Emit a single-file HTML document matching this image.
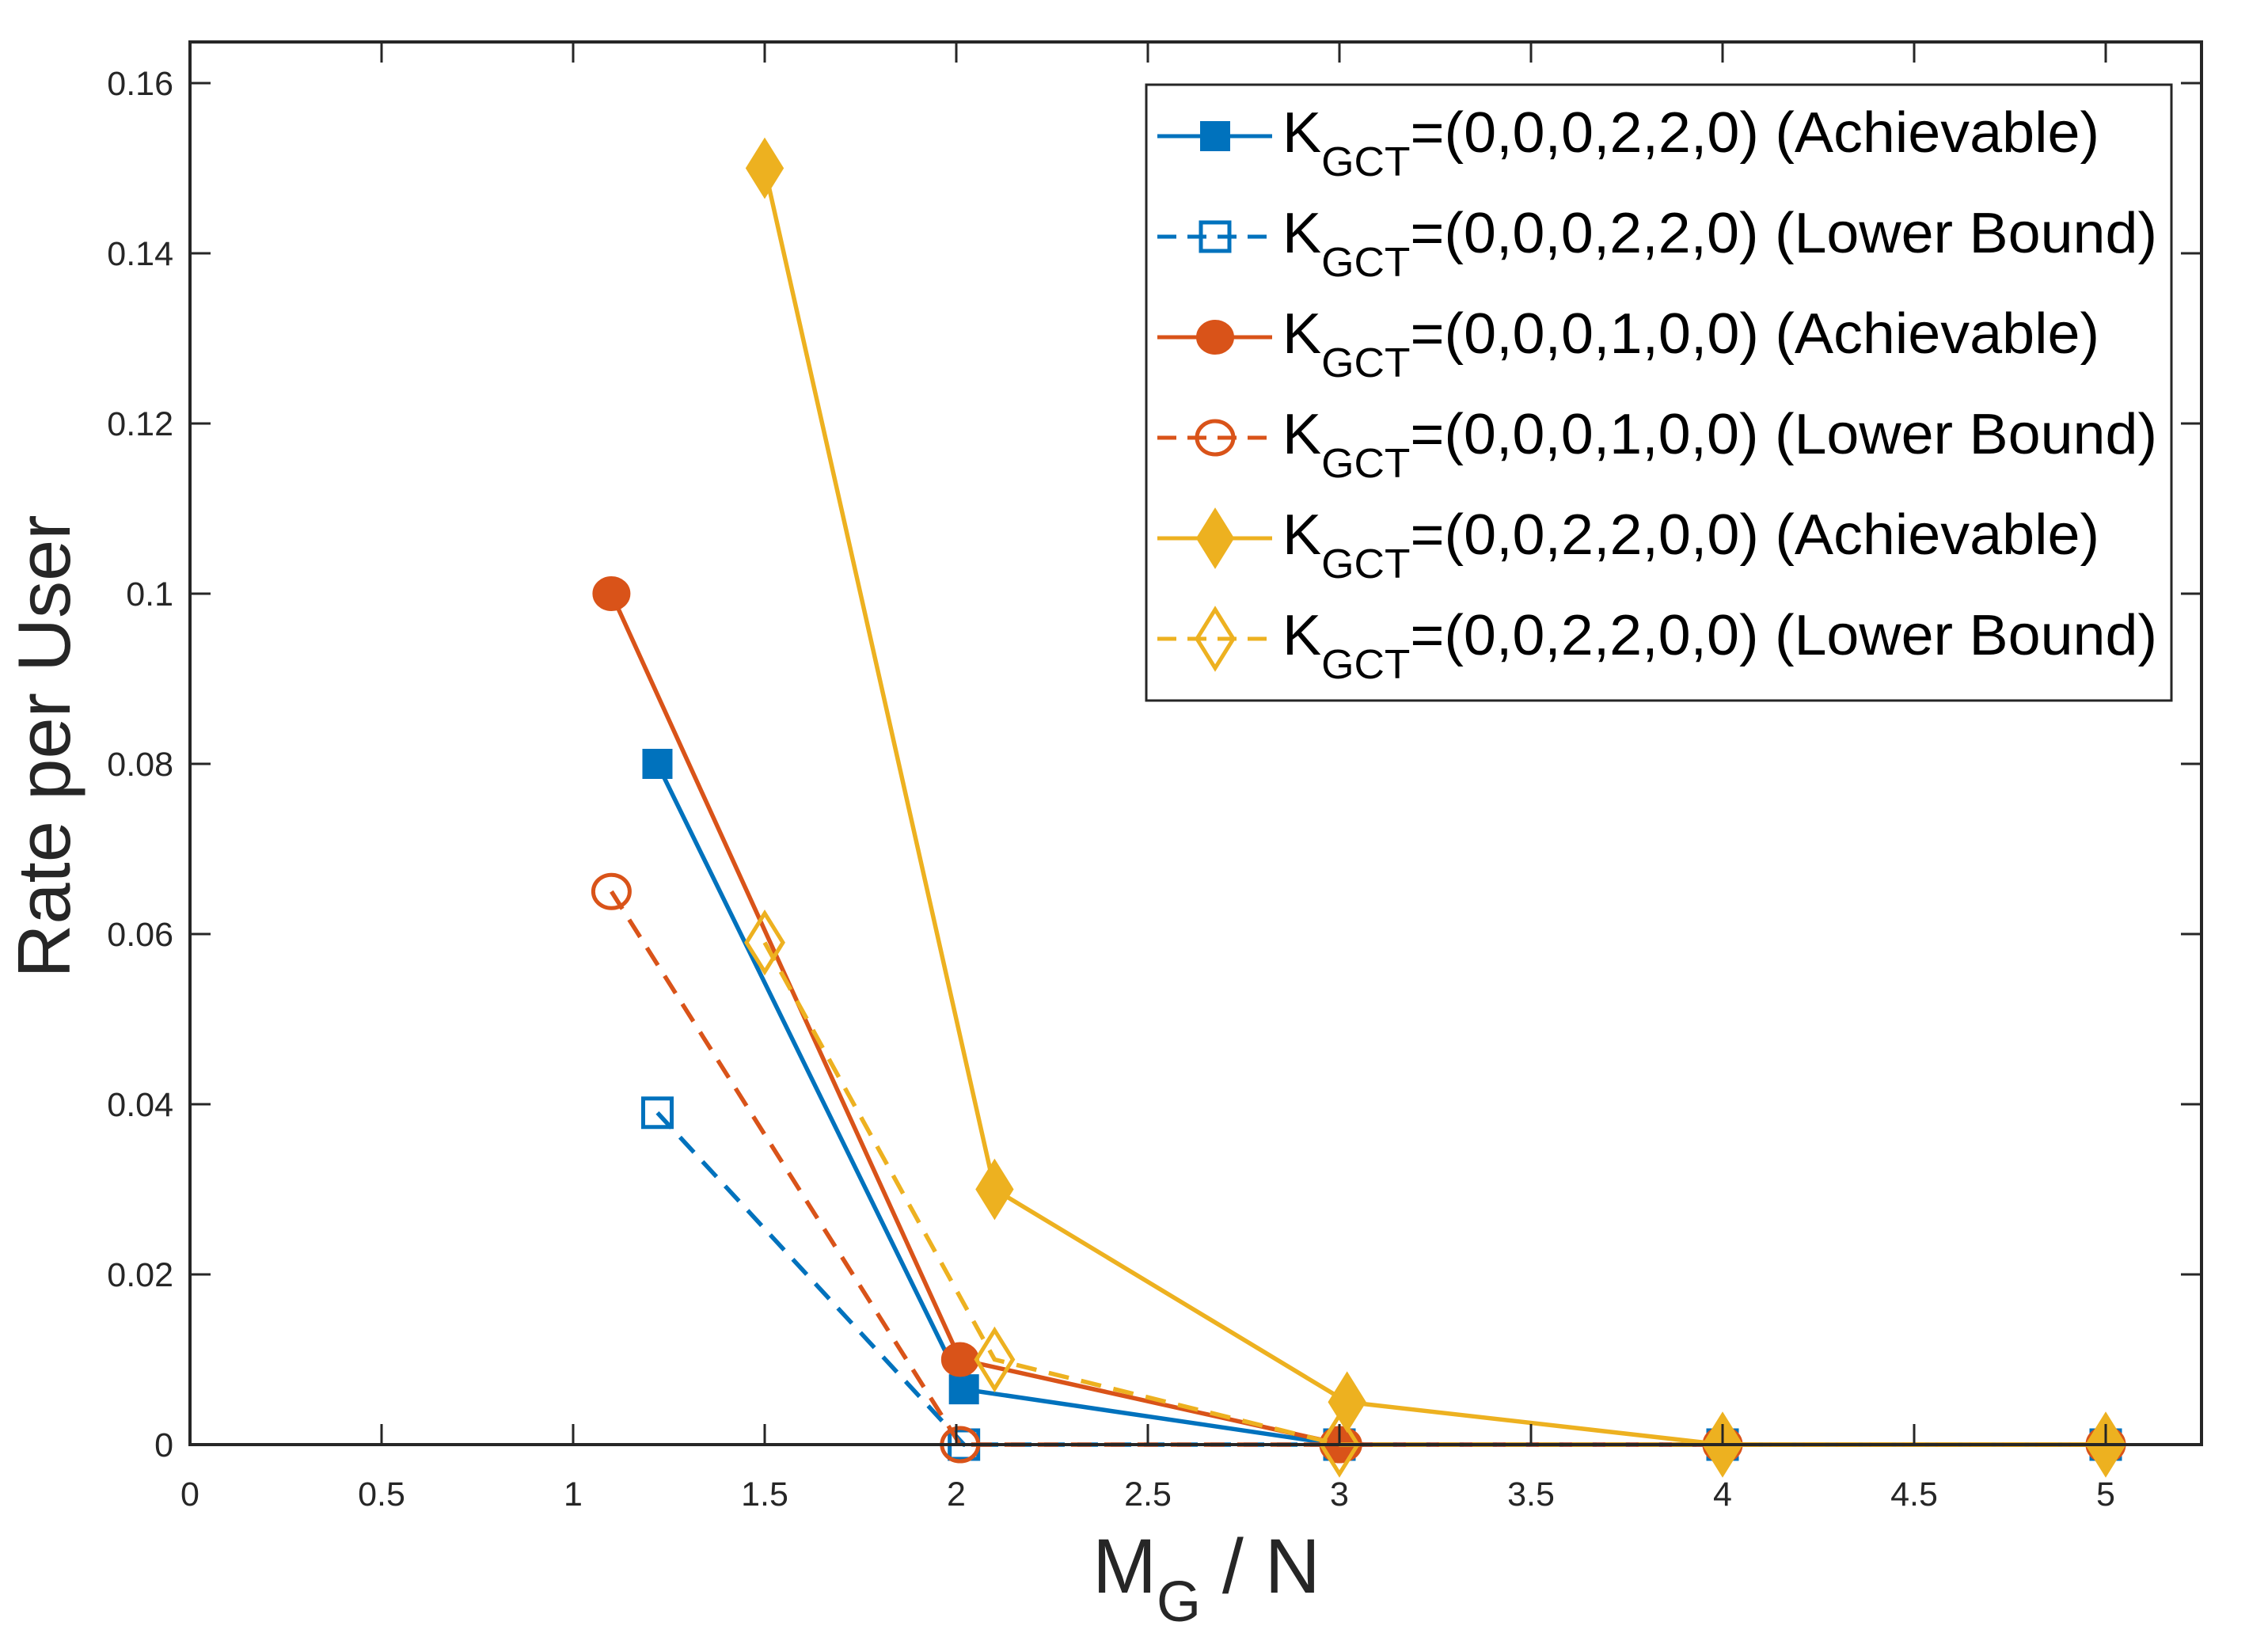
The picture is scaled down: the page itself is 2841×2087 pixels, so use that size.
<!DOCTYPE html>
<html><head><meta charset="utf-8"><style>
html,body{margin:0;padding:0;background:#fff;}
svg{display:block;font-family:"Liberation Sans",sans-serif;}
</style></head><body>
<svg id="chart" width="2841" height="2087" viewBox="0 0 2841 2087" xmlns="http://www.w3.org/2000/svg">
<rect width="2841" height="2087" fill="#fff"/>
<g id="marks"></g>
<g id="axes"></g>
<g id="legend"></g>
</svg>
<script>
const xTicks = [0,0.5,1,1.5,2,2.5,3,3.5,4,4.5,5];
const xTickLabels = ["0","0.5","1","1.5","2","2.5","3","3.5","4","4.5","5"];
const yTicks = [0,0.02,0.04,0.06,0.08,0.1,0.12,0.14,0.16];
const yTickLabels = ["0","0.02","0.04","0.06","0.08","0.1","0.12","0.14","0.16"];
const blueAchX = [1.22,2.02,3,4,5];
const blueAchY = [0.08,0.0065,0,0,0];
const blueLbX = [1.22,2.02,3,4,5];
const blueLbY = [0.039,0,0,0,0];
const redAchX = [1.1,2.01,3.01,4,5];
const redAchY = [0.1,0.01,0,0,0];
const redLbX = [1.1,2.01,3,4,5];
const redLbY = [0.065,0,0,0,0];
const yelAchX = [1.5,2.1,3.02,4,5];
const yelAchY = [0.15,0.03,0.005,0,0];
const yelLbX = [1.5,2.1,3,4,5];
const yelLbY = [0.059,0.01,0,0,0];
const legendLabels = ["(0,0,0,2,2,0) (Achievable)","(0,0,0,2,2,0) (Lower Bound)","(0,0,0,1,0,0) (Achievable)","(0,0,0,1,0,0) (Lower Bound)","(0,0,2,2,0,0) (Achievable)","(0,0,2,2,0,0) (Lower Bound)"];

const NS="http://www.w3.org/2000/svg";
const L=240,R=2781,T=53,B=1825;
const X0=240, XU=484;
const sx=v=>X0+v*XU;
const sy=v=>B-v*(1720/0.16);
function mk(tag,attrs,parent){const e=document.createElementNS(NS,tag);for(const k in attrs)e.setAttribute(k,attrs[k]);parent.appendChild(e);return e;}
const marks=document.getElementById('marks'),axes=document.getElementById('axes'),leg=document.getElementById('legend');
const C={b:"#0072BD",r:"#D95319",y:"#EDB120"};
const series=[
 {xs:blueAchX,ys:blueAchY,c:C.b,m:"sq",fill:true,dash:false,n:"blue-achievable"},
 {xs:blueLbX,ys:blueLbY,c:C.b,m:"sq",fill:false,dash:true,n:"blue-lower-bound"},
 {xs:redAchX,ys:redAchY,c:C.r,m:"ci",fill:true,dash:false,n:"red-achievable"},
 {xs:redLbX,ys:redLbY,c:C.r,m:"ci",fill:false,dash:true,n:"red-lower-bound"},
 {xs:yelAchX,ys:yelAchY,c:C.y,m:"di",fill:true,dash:false,n:"yellow-achievable"},
 {xs:yelLbX,ys:yelLbY,c:C.y,m:"di",fill:false,dash:true,n:"yellow-lower-bound"}
];
function marker(g,m,x,y,c,fill){
 let e;
 const st={fill:fill?c:"none",stroke:c,"stroke-width":fill?2:5};
 if(m==="sq"){e=mk('rect',Object.assign({x:x-18,y:y-18,width:36,height:36},st),g);}
 else if(m==="ci"){e=mk('ellipse',Object.assign({cx:x,cy:y,rx:23,ry:21},st),g);}
 else {e=mk('polygon',Object.assign({points:`${x},${y-37} ${x+23},${y} ${x},${y+37} ${x-23},${y}`},st),g);}
 return e;
}
series.forEach(s=>{
 const g=mk('g',{},marks);
 
 
 const pts=s.xs.map((x,i)=>sx(x)+","+sy(s.ys[i])).join(" ");
 const pl=mk('polyline',{points:pts,fill:"none",stroke:s.c,"stroke-width":5.5,"stroke-dasharray":s.dash?"26,16":"none"},g);
 
 
 s.xs.forEach((x,i)=>{
  const e=marker(g,s.m,sx(x),sy(s.ys[i]),s.c,s.fill);
  
  
 });
});
const box=mk('rect',{x:L,y:T,width:R-L,height:B-T,fill:"none",stroke:"#262626","stroke-width":4},axes);


xTicks.forEach((v,i)=>{
 const x=sx(v);
 mk('line',{x1:x,y1:B,x2:x,y2:B-26,stroke:"#262626","stroke-width":3},axes);
 mk('line',{x1:x,y1:T,x2:x,y2:T+26,stroke:"#262626","stroke-width":3},axes);
 const t=mk('text',{x:x,y:1902,"font-size":43,fill:"#262626","text-anchor":"middle"},axes);
 t.textContent=xTickLabels[i];
 
 
});
yTicks.forEach((v,i)=>{
 const y=sy(v);
 mk('line',{x1:L,y1:y,x2:L+26,y2:y,stroke:"#262626","stroke-width":3},axes);
 mk('line',{x1:R,y1:y,x2:R-26,y2:y,stroke:"#262626","stroke-width":3},axes);
 const t=mk('text',{x:219,y:y+15,"font-size":43,fill:"#262626","text-anchor":"end"},axes);
 t.textContent=yTickLabels[i];
 
 
});
const yl=mk('text',{x:0,y:0,"font-size":94,fill:"#262626","text-anchor":"middle",transform:"translate(88,943) rotate(-90)"},axes);
yl.textContent="Rate per User";


const xl=mk('text',{x:1524,y:2012,"font-size":97,fill:"#262626","text-anchor":"middle"},axes);
xl.innerHTML='M<tspan font-size="72" dy="36">G</tspan><tspan dy="-36"> / N</tspan>';


const lb=mk('rect',{x:1448,y:107,width:1295,height:778,fill:"#fff",stroke:"#262626","stroke-width":3},leg);


series.forEach((s,i)=>{
 const y=172+i*127;
 const g=mk('g',{},leg);
 
 
 mk('line',{x1:1462,y1:y,x2:1607,y2:y,stroke:s.c,"stroke-width":5,"stroke-dasharray":s.dash?"24,14":"none"},g);
 marker(g,s.m,1535,y,s.c,s.fill);
 const t=mk('text',{x:1620,y:y+20,"font-size":72,fill:"#000"},g);
 t.innerHTML='K<tspan font-size="52" dy="30">GCT</tspan><tspan dy="-30">='+legendLabels[i]+'</tspan>';
 t.setAttribute('textLength', s.dash?1105:1032);
 t.setAttribute('lengthAdjust','spacingAndGlyphs');
});
</script>
</body></html>
